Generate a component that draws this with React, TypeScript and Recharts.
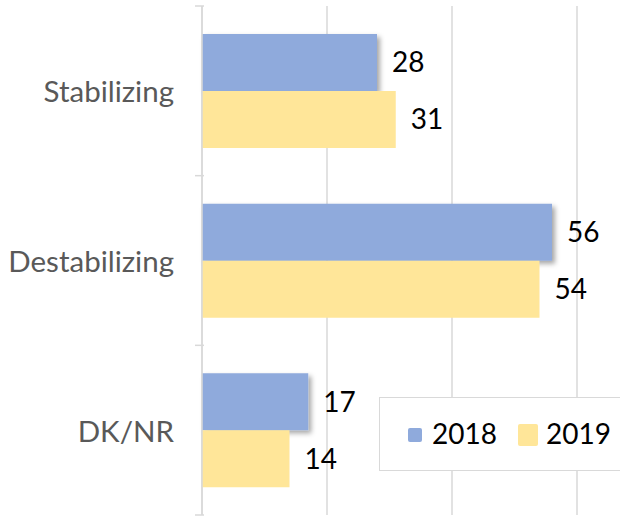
import { BarChart, Bar, XAxis, YAxis, CartesianGrid, LabelList, Legend } from 'recharts';

const categories = ['Stabilizing', 'Destabilizing', 'DK/NR'];
const values2018 = [28, 56, 17];
const values2019 = [31, 54, 14];
const xTicks = [0, 20, 40, 60, 80];

const data = categories.map((name, i) => ({ name, y2018: values2018[i], y2019: values2019[i] }));

const FONT = 'Lato, "Noto Sans", sans-serif';

function CategoryTick(props: any) {
  const { x, y, payload, index, visibleTicksCount } = props;
  const half = payload.offset || 0;
  const axisX = x + 10;
  return (
    <g>
      <line x1={axisX - 9} x2={axisX} y1={y - half} y2={y - half} stroke="#d9d9d9" strokeWidth={1.5} />
      {index === visibleTicksCount - 1 && (
        <line x1={axisX - 9} x2={axisX} y1={y + half} y2={y + half} stroke="#d9d9d9" strokeWidth={1.5} />
      )}
      <text x={x - 20} y={y} textAnchor="end" dominantBaseline="central" fill="#595959" fontSize={29.5} fontFamily={FONT}>
        {payload.value}
      </text>
    </g>
  );
}

function LegendBox(props: any) {
  const items = props.payload || [];
  const squares = [
    { left: 28, top: 30, w: 14, h: 14, textLeft: 52 },
    { left: 138, top: 26, w: 20, h: 22, textLeft: 166 },
  ];
  return (
    <div
      style={{
        position: 'relative',
        width: 260,
        height: 74,
        boxSizing: 'border-box',
        border: '1.5px solid #d9d9d9',
        background: '#fff',
        fontFamily: FONT,
      }}
    >
      {items.map((item: any, i: number) => (
        <div key={item.value}>
          <span
            style={{
              position: 'absolute',
              left: squares[i].left,
              top: squares[i].top,
              width: squares[i].w,
              height: squares[i].h,
              background: item.color,
              borderRadius: 2,
            }}
          />
          <span
            style={{
              position: 'absolute',
              left: squares[i].textLeft,
              top: 21,
              fontSize: 28,
              lineHeight: '28px',
              color: '#000',
            }}
          >
            {item.value}
          </span>
        </div>
      ))}
    </div>
  );
}

export default function App() {
  return (
    <div style={{ position: 'absolute', left: 0, top: 0, width: 620, height: 517, overflow: 'hidden', background: '#fff' }}>
      <BarChart
        width={702}
        height={517}
        data={data}
        layout="vertical"
        margin={{ top: 6, right: 0, bottom: 2, left: 0 }}
        barSize={57}
        barGap={0}
      >
        <defs>
          <filter id="barShadow" x="-10%" y="-10%" width="130%" height="140%">
            <feDropShadow dx={3} dy={3} stdDeviation={2.5} floodColor="#000" floodOpacity={0.35} />
          </filter>
        </defs>
        <CartesianGrid vertical horizontal={false} stroke="#d9d9d9" strokeWidth={1.5} />
        <XAxis type="number" domain={[0, 80]} ticks={xTicks} hide />
        <YAxis
          type="category"
          dataKey="name"
          width={202}
          axisLine={{ stroke: '#d9d9d9', strokeWidth: 1.5 }}
          tickLine={false}
          tick={<CategoryTick />}
          interval={0}
        />
        <Legend
          layout="horizontal"
          verticalAlign="middle"
          align="center"
          content={<LegendBox />}
          wrapperStyle={{ left: 379, top: 397, width: 260, height: 74, right: 'auto', bottom: 'auto' }}
        />
        <Bar dataKey="y2018" name="2018" fill="#8faadc" isAnimationActive={false} filter="url(#barShadow)">
          <LabelList dataKey="y2018" position="right" offset={15} fill="#000" fontSize={28} fontFamily={FONT} />
        </Bar>
        <Bar dataKey="y2019" name="2019" fill="#ffe699" isAnimationActive={false}>
          <LabelList dataKey="y2019" position="right" offset={15} fill="#000" fontSize={28} fontFamily={FONT} />
        </Bar>
      </BarChart>
    </div>
  );
}
